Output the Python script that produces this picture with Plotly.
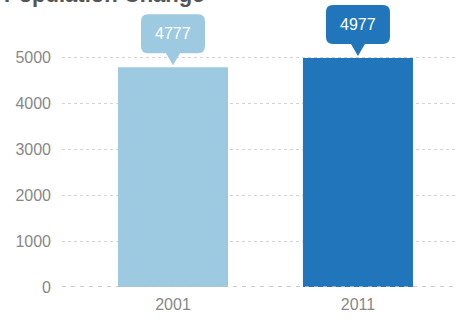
import plotly.graph_objects as go

# Census population by year
years = ["2001", "2011"]
population = [4777, 4977]
bar_colors = ["#9ecae1", "#2176bb"]
y_ticks = [0, 1000, 2000, 3000, 4000, 5000]
title_text = "Population Change"

positions = list(range(len(years)))
font_family = "Liberation Sans, Arial"

fig = go.Figure()
fig.add_trace(go.Bar(
    x=positions, y=population,
    marker=dict(color=bar_colors, line=dict(width=0)),
    width=0.595,
    hoverinfo="skip",
))

# Callout bubble: rounded box with a downward pointer, in pixels relative to the bar top
w, h, r, ph, pw, gap = 32, 39, 7, 12, 7, 2
b = gap + ph
bubble = (
    f"M 0 {gap} L {-pw} {b} L {-w + r} {b} Q {-w} {b} {-w} {b + r} "
    f"L {-w} {b + h - r} Q {-w} {b + h} {-w + r} {b + h} "
    f"L {w - r} {b + h} Q {w} {b + h} {w} {b + h - r} "
    f"L {w} {b + r} Q {w} {b} {w - r} {b} L {pw} {b} Z"
)

shapes = [dict(type="line", xref="paper", yref="y", x0=0, x1=1, y0=0, y1=0,
               line=dict(color="#bdbdbd", width=1.5, dash="4px,5px"), layer="above")]
annotations = []
for pos, val, col in zip(positions, population, bar_colors):
    shapes.append(dict(
        type="path", xref="x", yref="y", xsizemode="pixel", ysizemode="pixel",
        xanchor=pos, yanchor=val, path=bubble,
        fillcolor=col, line=dict(width=0), layer="above",
    ))
    annotations.append(dict(
        x=pos, y=val, xref="x", yref="y", text=str(val), showarrow=False,
        yshift=b + h / 2, font=dict(color="white", size=16, family=font_family),
    ))

annotations.append(dict(
    x=0, y=1, xref="paper", yref="paper", xanchor="left", yanchor="bottom",
    xshift=-60, yshift=-9, text=f"<b>{title_text}</b>", showarrow=False,
    font=dict(color="#555555", size=22, family=font_family),
))

fig.update_layout(
    width=456, height=320,
    margin=dict(l=62, r=0, t=0, b=33),
    paper_bgcolor="white", plot_bgcolor="white",
    showlegend=False,
    shapes=shapes, annotations=annotations,
    font=dict(family=font_family, color="#888888", size=16),
    xaxis=dict(range=[-0.6, 1.53], tickvals=positions, ticktext=years,
               showgrid=False, showline=False, zeroline=False, ticks="",
               ticklabelstandoff=6,
               tickfont=dict(size=16, color="#888888")),
    yaxis=dict(range=[0, 6239], tickvals=y_ticks, showgrid=True,
               gridcolor="#d4d4d4", griddash="dot", gridwidth=1.2,
               zeroline=False, showline=False, ticks="", ticklen=0,
               ticklabelstandoff=10,
               tickfont=dict(size=16, color="#888888")),
)

fig.write_html("out.html")
